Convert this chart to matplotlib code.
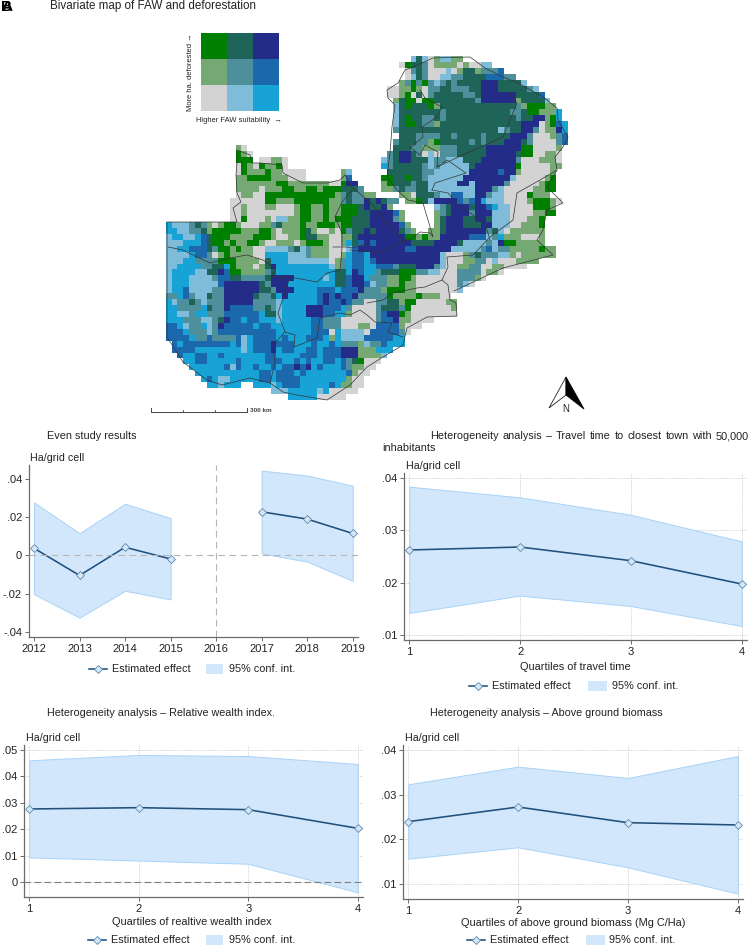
import re
import numpy as np
import matplotlib
matplotlib.use("Agg")
import matplotlib.pyplot as plt
from matplotlib.colors import ListedColormap
from matplotlib.patches import Polygon, Rectangle

plt.rcParams["font.family"] = ["Liberation Sans", "DejaVu Sans"]

W, H = 750, 947
TEXT = "#222222"
CI_FILL = "#d2e7fb"
CI_EDGE = "#a8d3f7"
LINE = "#21507c"
MARK = "#5f8aa8"
AXIS = "#6a6a6a"

# Bivariate classes: a-c low deforestation, d-f medium, g-i high; suitability rises left to right.
CLASS_KEYS = "abcdefghi"
CLASS_COLORS = ["#d3d3d3", "#7fbcd9", "#18a3d6",
                "#76a873", "#4d8f9a", "#1c68ad",
                "#008000", "#1f6459", "#232c88"]
LEGEND_GRID = ["ghi", "def", "abc"]

# Grid rows, north to south, as "first_column:run_length_classes" segments.
GRID_ROWS = [
    "42:bhbadb2d2",
    "40:agh2ead4adaa" + "b2",
    "41:aeheaaabadh2de3f",
    "41:abheaab2e2h4f3e2",
    "40:degegebeheh4i3h4b",
    "38:a2d2gdae2h2e3h2i3h5eb",
    "38:a2dgahaeh5e2hi6h4f",
    "39:dhg2ag2h7ei6dh4b",
    "39:bhgh3gdh13edg3d2",
    "39:bh7eh11e2hg2d3c",
    "39:bhgh2e2heh12eh2i2dgc",
    "39:bhg2he2dh14i3adgfc",
    "39:eh17beh2i2ead2ic",
    "40:h3e4h2eh4eh4i3ea3def",
    "39:eh3e2dgh5eheh3i3hea4ef",
    "12:da 39:h3e2d3e3h5i6g2a4d",
    "12:gda 38:ehi2heabae3h5i5hg2a2d2a",
    "12:g3 16:a2d2a 37:behi2h3be2b3h3i6ea3d3a",
    "12:agdagd2ga 37:ceh5ebeb5hi7ga5d2",
    "12:agd3gd2a4 30:db 38:h6e2b6i5fi2da5d",
    "12:d2g4d3a3 30:df 37:g2h2gh2eb6i8ba5dg",
    "12:d7g2d7a2gi2 37:dgh3eh2b5i2bi5ea5dg2",
    "12:d4ad3g2d2g2dg3h3e 37:d2ehe2h2b8i3eba5d2g2",
    "12:ad2a2g12dehe2d2 40:d2ah3eb2f2b2i2eb2a4gd3",
    "11:a6g2d3g6d2ehe2ihihe2 41:d2ghbi4fefi" + "cb3a4dg3da",
    "11:a2da3d2a3dg2d2gd2g3hih2id 46:behi3hi2fcb2a4g3d",
    "11:a2da8dg2d2gd2g3h2i4fd 46:dehi3ei3b3a4d2g2",
    "11:a2ga3dab2d2g2d2gdg3h3i4ed 46:dhi3h2i2hb3a3d2g",
    "0:cb3ehedadg2da3d2ehd3gd2g3dg2h3i5fd 46:dhi3h3i2b3a2d3g",
    "0:c2b2e2hdg5d3g2dad3ghda2dageh2ihi4hed 45:d2hi7ehbad6",
    "0:bc2b2cfhg3d4g3da2d2gh2d2a2d2hi8g2dgd2i5f3becd3a3d",
    "0:b3c3fhg2dgd2g2da2d3adg3da2dchfifi6h4i4hb4ebig2d5",
    "0:b2c2f3heg2dgd2a2b4ehbed3a3bfi8f2i6b5efbe2d5gd2",
    "0:b4cf2eadgd4a2c4b3ed3a2dcf2ci12ba3dehe3b2dad6",
    "0:b3c2e4g3d4ahc3b7adecf2cfi11ba3d2e2aba3d4",
    "0:b2c4e2h2cgd3adhic9bdecf2c2f3eh3i3eba2d2e2a2d2a4",
    "0:bc4b2h2ifg2d4ehc10h2cifc2eh3g3e2b2a3e4ad2a",
    "0:bc3b4ef2h2e4hi4c5bch2fi2ce3d2g2da7e3da",
    "0:bc3b5fi6hei3c8h2fi2fbe2d2gd2a7eba",
    "0:bc2fb4e2i6h2ei3c4f3cf3ie3dg3d2a7b",
    "0:e2cfeb2he2i5he2hcic5fifif2ie5gd4gd3a2",
    "0:cbe2hebe3i5e4bc6fif2ife2a2e2h2dg2a5d2",
    "0:c2e4che2if4e2hebc4i3f3cea4eh3ega7d",
    "0:c2b2ec2e3f6ch2bc4i3f2c2da4efi2gda8",
    "0:c3e3b2ehif2cf2c3bc5f2e3a6ef2id2a4",
    "0:f2cbe2cbeif5cf2c7f2e3a3d2af4da3",
    "0:f3ce3bef10c6f3acb4af5ea",
    "0:f4ce2fe4fbcf4cfc3f3cdcb4f5c2",
    "1:fcf8cfbcf3if3c3fc2fce3dbe2fc3",
    "1:f4c8bcf3icf2c2f2cf3i3d3c3",
    "2:fc2f2c2fc7f2c4f3cf3i3d4b",
    "3:c2f2c5fc4f3c2fcfc2f2cfehga3",
    "4:c6fbfc2fc2fcf2ificfc3fed2a2",
    "5:c11f2cf3cfc7fda2",
    "6:cfcb2c5f2cf4c8da2",
    "7:c2bc3 15:c3bcf3c5fcd2a2",
    "18:b3c5bca5",
    "21:c5a5",
]

# Boundary lines of the country and its provinces, in map units.
BOUNDARIES = [
    [(237, 150), (237, 163), (236, 175), (237, 193), (241, 202), (233, 208), (237, 222), (167, 222),
     (167, 337), (183, 362), (207, 380), (222, 385), (250, 378), (270, 383), (283, 392), (297, 395),
     (327, 400), (350, 385), (367, 367), (383, 357), (403, 345), (407, 328), (427, 317), (457, 316),
     (456, 303), (450, 300), (448, 285), (442, 280)],
    [(237, 150), (250, 155), (252, 163), (260, 163), (282, 165), (283, 173), (303, 183), (327, 183),
     (340, 180), (345, 175), (352, 187), (372, 204), (388, 225), (405, 243), (420, 232), (430, 233),
     (433, 237), (425, 210), (423, 203), (408, 200), (397, 190), (387, 177), (390, 153), (392, 127),
     (395, 105), (388, 98), (387, 90), (398, 83), (405, 70), (413, 67), (433, 58), (470, 57),
     (485, 68), (503, 77), (518, 83), (543, 97), (557, 108), (558, 120), (568, 137), (563, 147),
     (555, 157), (557, 170), (547, 187), (563, 203), (547, 210), (543, 230), (537, 240), (553, 255),
     (503, 268), (454, 291)],
    [(168, 247), (183, 250), (197, 257), (210, 263), (230, 258), (247, 255), (263, 260), (275, 268),
     (272, 277), (290, 277), (317, 282), (327, 273), (340, 270), (342, 248), (342, 233), (335, 217),
     (342, 202), (352, 190)],
    [(290, 277), (283, 298), (278, 313), (285, 332), (273, 345), (275, 363), (270, 383)],
    [(285, 332), (295, 335), (294, 347), (317, 338), (320, 318), (340, 313), (350, 315), (360, 310),
     (367, 315), (375, 322), (392, 323), (388, 332), (403, 337)],
    [(367, 303), (383, 300), (393, 293), (417, 288), (425, 287), (442, 280), (448, 267), (447, 257),
     (473, 255), (490, 237), (513, 220), (517, 193), (540, 180), (557, 170)],
    [(350, 250), (383, 253), (408, 238)],
    [(333, 247), (347, 247), (352, 248), (370, 243)],
    [(437, 167), (467, 153), (503, 137), (517, 103), (510, 93)],
    [(410, 147), (420, 155), (425, 145), (438, 152), (437, 167), (447, 160), (466, 173), (435, 183),
     (432, 190)],
    [(410, 148), (423, 137), (422, 127), (437, 117), (442, 107), (425, 98), (420, 90)],
    [(432, 190), (448, 193), (460, 207), (470, 213), (485, 223), (490, 240)],
]

# Event study estimates by year (2016 is the omitted year).
EVENT_YEARS_PRE = [2012, 2013, 2014, 2015]
EVENT_EST_PRE = [0.0037, -0.0105, 0.0042, -0.0019]
EVENT_HI_PRE = [0.0276, 0.0115, 0.0269, 0.0194]
EVENT_LO_PRE = [-0.0203, -0.0325, -0.0185, -0.0230]
EVENT_YEARS_POST = [2017, 2018, 2019]
EVENT_EST_POST = [0.0227, 0.0189, 0.0114]
EVENT_HI_POST = [0.0442, 0.0416, 0.0363]
EVENT_LO_POST = [0.0010, -0.0033, -0.0133]

QUARTILES = [1, 2, 3, 4]
TRAVEL_EST = [0.02625, 0.02682, 0.0242, 0.01972]
TRAVEL_HI = [0.0384, 0.03635, 0.0330, 0.0279]
TRAVEL_LO = [0.01416, 0.0175, 0.0155, 0.01166]
WEALTH_EST = [0.02764, 0.02814, 0.02739, 0.02035]
WEALTH_HI = [0.0460, 0.0480, 0.0476, 0.0446]
WEALTH_LO = [0.0094, 0.0082, 0.0070, -0.0038]
BIOMASS_EST = [0.02392, 0.02721, 0.02369, 0.02317]
BIOMASS_HI = [0.0323, 0.03626, 0.03372, 0.03865]
BIOMASS_LO = [0.01561, 0.01816, 0.01367, 0.00776]

EVENT_TICKS = [-0.04, -0.02, 0, 0.02, 0.04]
EVENT_TICKLABELS = ["-.04", "-.02", "0", ".02", ".04"]
TRAVEL_TICKS = [0.01, 0.02, 0.03, 0.04]
TRAVEL_TICKLABELS = [".01", ".02", ".03", ".04"]
WEALTH_TICKS = [0, 0.01, 0.02, 0.03, 0.04, 0.05]
WEALTH_TICKLABELS = ["0", ".01", ".02", ".03", ".04", ".05"]

N_COLS, N_ROWS = 70, len(GRID_ROWS)
GRID_X0, GRID_Y0, CELL_W, CELL_H = 165.7, 56.0, 5.83, 5.93


def decode_grid():
    """Expand the run-length rows into an integer class array, with -1 for no data."""
    grid = np.full((N_ROWS, N_COLS), -1)
    for r, row in enumerate(GRID_ROWS):
        for seg in row.split():
            start, runs = seg.split(":")
            c = int(start)
            for key, count in re.findall(r"([a-i])(\d*)", runs):
                n = int(count) if count else 1
                grid[r, c:c + n] = CLASS_KEYS.index(key)
                c += n
    return grid


fig = plt.figure(figsize=(W / 100, H / 100), dpi=100, facecolor="white")
overlay = fig.add_axes([0, 0, 1, 1], zorder=5)
overlay.set_xlim(0, W)
overlay.set_ylim(H, 0)
overlay.axis("off")
overlay.patch.set_alpha(0)

cmap = ListedColormap(CLASS_COLORS)
grid = np.ma.masked_less(decode_grid(), 0)
x_edges = GRID_X0 + CELL_W * np.arange(N_COLS + 1)
y_edges = GRID_Y0 + CELL_H * np.arange(N_ROWS + 1)
overlay.pcolormesh(x_edges, y_edges, grid, cmap=cmap, vmin=-0.5, vmax=8.5, linewidth=0)

for line in BOUNDARIES:
    xy = np.array(line)
    overlay.plot(xy[:, 0], xy[:, 1], color="#333333", lw=0.5, solid_joinstyle="round")

# Colour key
key = np.array([[CLASS_KEYS.index(ch) for ch in row] for row in LEGEND_GRID])
overlay.pcolormesh(np.linspace(201, 279, 4), np.linspace(33, 111, 4), key, cmap=cmap,
                   vmin=-0.5, vmax=8.5, linewidth=0)
overlay.text(191, 72, "More ha. deforested →", rotation=90, ha="center", va="center",
             fontsize=5.4, color=TEXT)
overlay.text(196, 120, "Higher FAW suitability  →", ha="left", va="center", fontsize=5.4, color=TEXT)

# Panel letters printed on top of each other
for letter in "AB":
    overlay.text(1.5, 7, letter, ha="left", va="center", fontsize=11, fontweight="bold", color="black")
overlay.text(50, 6, "Bivariate map of FAW and deforestation", ha="left", va="center",
             fontsize=8.35, color=TEXT)

# Scale bar
overlay.plot([151, 151, 247, 247], [408, 412, 412, 408], color="#444444", lw=0.7)
for tx in (183, 215):
    overlay.plot([tx, tx], [409.5, 412], color="#444444", lw=0.6)
overlay.text(250, 410, "300 km", ha="left", va="center", fontsize=4.6, color="#444444", fontweight="bold")

# North arrow
overlay.add_patch(Polygon([(566, 377), (549, 408), (566, 395)], closed=True, fc="white", ec="#222222", lw=0.6))
overlay.add_patch(Polygon([(566, 377), (584, 409), (566, 395)], closed=True, fc="black", ec="black", lw=0.6))
overlay.text(566, 409, "N", ha="center", va="center", fontsize=7, color=TEXT)


def panel(left, right, top, bottom, xlim, ylim):
    ax = fig.add_axes([left / W, 1 - bottom / H, (right - left) / W, (bottom - top) / H])
    ax.set_xlim(*xlim)
    ax.set_ylim(*ylim)
    for side in ("top", "right"):
        ax.spines[side].set_visible(False)
    for side in ("left", "bottom"):
        ax.spines[side].set_color(AXIS)
        ax.spines[side].set_linewidth(0.9)
    ax.tick_params(axis="both", length=3.2, width=0.7, color=AXIS, labelsize=8,
                   labelcolor=TEXT, pad=1.8)
    return ax


def draw_series(ax, xs, est, lo, hi):
    ax.fill_between(xs, lo, hi, facecolor=CI_FILL, edgecolor=CI_EDGE, linewidth=0.7, zorder=2)
    ax.plot(xs, est, color=LINE, lw=1.15, zorder=3, clip_on=False)
    ax.plot(xs, est, ls="none", marker="D", ms=3.8, mfc=CI_FILL, mec=MARK, mew=0.6,
            zorder=4, clip_on=False)


def dotted_grid(ax):
    ax.grid(True, color="#c6c6c6", lw=0.6, ls=(0, (1, 1.2)), zorder=1)
    ax.set_axisbelow(True)


def key_row(y, line_x, text_x, patch_x, patch_text_x):
    overlay.plot(line_x, [y, y], color=LINE, lw=1.15)
    overlay.plot([sum(line_x) / 2], [y], ls="none", marker="D", ms=3.6, mfc=CI_FILL, mec=MARK, mew=0.6)
    overlay.text(text_x, y, "Estimated effect", ha="left", va="center", fontsize=7.8, color=TEXT)
    overlay.add_patch(Rectangle((patch_x[0], y - 5), patch_x[1] - patch_x[0], 10, fc=CI_FILL, ec="none"))
    overlay.text(patch_text_x, y, "95% conf. int.", ha="left", va="center", fontsize=7.8, color=TEXT)


def justified(text, x0, x1, y, size):
    """Spread the words of one title line evenly between x0 and x1."""
    words = text.split()
    items = [overlay.text(0, y, w, ha="left", va="center", fontsize=size, color=TEXT) for w in words]
    renderer = fig.canvas.get_renderer()
    widths = [t.get_window_extent(renderer).width for t in items]
    gap = (x1 - x0 - sum(widths)) / (len(words) - 1)
    x = x0
    for t, w in zip(items, widths):
        t.set_x(x)
        x += w + gap


# Event study panel
ax1 = panel(29, 358, 465, 637, (2011.89, 2019.116), (-0.0426, 0.0471))
draw_series(ax1, EVENT_YEARS_PRE, EVENT_EST_PRE, EVENT_LO_PRE, EVENT_HI_PRE)
draw_series(ax1, EVENT_YEARS_POST, EVENT_EST_POST, EVENT_LO_POST, EVENT_HI_POST)
ax1.axhline(0, color="#b5b5b5", lw=0.8, ls=(0, (6, 4)), zorder=3)
ax1.axvline(2016, color="#b5b5b5", lw=0.8, ls=(0, (6, 4)), zorder=3)
ax1.set_xticks(range(2012, 2020))
ax1.set_yticks(EVENT_TICKS, EVENT_TICKLABELS)
overlay.text(47, 436, "Even study results", ha="left", va="center", fontsize=7.8, color=TEXT)
overlay.text(30.5, 458, "Ha/grid cell", ha="left", va="center", fontsize=7.7, color=TEXT)
key_row(669, [89, 107], 112, (206, 223), 229)

# Travel time panel
ax2 = panel(404.3, 746.7, 473, 640, (0.955, 4.045), (0.00898, 0.04102))
dotted_grid(ax2)
draw_series(ax2, QUARTILES, TRAVEL_EST, TRAVEL_LO, TRAVEL_HI)
ax2.set_xticks(QUARTILES)
ax2.set_yticks(TRAVEL_TICKS, TRAVEL_TICKLABELS)
justified("Heterogeneity analysis – Travel time to closest town with 50,000", 430, 749, 436, 7.8)
overlay.text(382, 448, "inhabitants", ha="left", va="center", fontsize=7.8, color=TEXT)
overlay.text(406, 466, "Ha/grid cell", ha="left", va="center", fontsize=7.7, color=TEXT)
overlay.text(575, 667, "Quartiles of travel time", ha="center", va="center", fontsize=7.9, color=TEXT)
key_row(686, [468.5, 487], 491.7, (588, 607), 612)

# Wealth panel
ax3 = panel(24.3, 362.7, 745, 897.3, (0.955, 4.045), (-0.00565, 0.05176))
dotted_grid(ax3)
draw_series(ax3, QUARTILES, WEALTH_EST, WEALTH_LO, WEALTH_HI)
ax3.axhline(0, color="#7d7d7d", lw=0.8, ls=(0, (6, 3)), zorder=3)
ax3.set_xticks(QUARTILES)
ax3.set_yticks(WEALTH_TICKS, WEALTH_TICKLABELS)
overlay.text(47, 713, "Heterogeneity analysis – Relative wealth index.", ha="left", va="center",
             fontsize=7.75, color=TEXT)
overlay.text(26, 738, "Ha/grid cell", ha="left", va="center", fontsize=7.7, color=TEXT)
overlay.text(192, 922, "Quartiles of realtive wealth index", ha="center", va="center", fontsize=7.9, color=TEXT)
key_row(940, [88, 106], 110.7, (206, 223), 229)

# Biomass panel
ax4 = panel(403.3, 742.7, 745, 899, (0.955, 4.045), (0.00656, 0.04112))
dotted_grid(ax4)
draw_series(ax4, QUARTILES, BIOMASS_EST, BIOMASS_LO, BIOMASS_HI)
ax4.set_xticks(QUARTILES)
ax4.set_yticks(TRAVEL_TICKS, TRAVEL_TICKLABELS)
overlay.text(430, 713, "Heterogeneity analysis – Above ground biomass", ha="left", va="center",
             fontsize=7.75, color=TEXT)
overlay.text(405, 738, "Ha/grid cell", ha="left", va="center", fontsize=7.7, color=TEXT)
overlay.text(573, 923, "Quartiles of above ground biomass (Mg C/Ha)", ha="center", va="center",
             fontsize=7.9, color=TEXT)
key_row(940, [467, 485], 490, (586, 605), 609)

fig.savefig("out.png", dpi=100)
